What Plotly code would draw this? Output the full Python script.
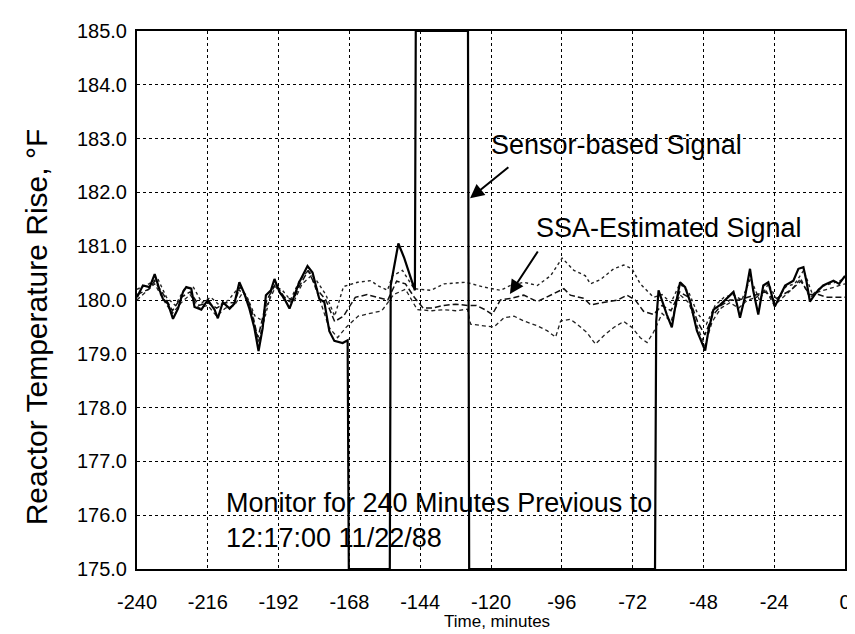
import plotly.graph_objects as go

# ---------------- data ----------------
sensor_t = [-240, -238, -235.7, -234, -232.3, -231.2, -229.5, -227.8, -226.1, -224.4, -223.3, -221.6,
            -220.5, -218.2, -216, -213.7, -212.6, -210.9, -208.6, -207, -205.3, -203.6, -201.9, -200.2,
            -198.8, -197.4, -196.3, -194.6, -193.4, -191.7, -190, -188.3, -186.6, -185, -182.2, -180.5,
            -178.2, -176.5, -174.8, -173.1, -170.3, -168.6, -168.2, -154.3, -154.0, -151.4, -149.4,
            -147.8, -145.8, -145.5, -127.8, -127.4, -64.4, -64.0, -63.2, -60.4, -58.7, -57.6, -55.9,
            -54.2, -52.5, -50.2, -48.5, -47.4, -46.3, -44.6, -42.3, -40.1, -37.8, -36.7, -35.6, -33.9,
            -32.2, -31.1, -29.4, -27.7, -26.0, -23.8, -22.0, -20.3, -17.5, -15.8, -14.1, -13.0, -11.9,
            -9.6, -7.4, -5.1, -3.9, -2, 0]
sensor_v = [180.05, 180.27, 180.24, 180.48, 180.18, 180.02, 179.93, 179.65, 179.84, 180.15, 180.24, 180.21,
            179.87, 179.82, 180.0, 179.82, 179.66, 179.96, 179.84, 179.93, 180.33, 180.12, 179.84, 179.48,
            179.05, 179.48, 180.09, 180.18, 180.39, 180.15, 180.02, 179.84, 180.09, 180.33, 180.63, 180.51,
            180.02, 179.96, 179.42, 179.24, 179.2, 179.25, 175.0, 175.0, 180.27, 181.05, 180.78,
            180.51, 180.18, 185.0, 185.0, 175.0, 175.0, 179.6, 180.18, 179.73, 179.49, 179.85, 180.33,
            180.24, 179.97, 179.43, 179.21, 179.06, 179.43, 179.82, 179.91, 180.03, 180.15, 179.94, 179.67, 180.06,
            180.58, 180.17, 179.73, 180.27, 180.33, 179.88, 180.09, 180.27, 180.36, 180.58, 180.61, 180.33, 179.97,
            180.15, 180.27, 180.33, 180.36, 180.3, 180.45]

ssa_t = [-240, -236, -234, -231, -228, -225, -222, -219, -216, -213, -210, -207, -205, -202, -199, -196,
         -193, -190, -187, -185, -182, -179, -176, -173, -170, -166, -162, -158, -155, -152, -149, -146,
         -143, -140, -136, -132, -128, -125, -122, -119.6, -116.8, -113.4, -108.9, -104.3, -99.8, -95.3,
         -93.1, -88.5, -86.3, -81.7, -77, -73.9, -71.1, -68.3, -64.9, -62, -59, -56, -53, -50, -47.5, -45,
         -42, -39, -36, -33, -30, -27, -24, -21, -18, -15, -12, -9, -6, -3, 0]
ssa_v = [180.1, 180.2, 180.35, 180.1, 179.8, 180.05, 180.15, 179.9, 179.95, 179.85, 179.95, 179.95, 180.25,
         179.95, 179.3, 180.0, 180.3, 180.05, 180.0, 180.25, 180.55, 180.2, 180.0, 179.6, 179.7, 180.05,
         180.1, 180.05, 180.0, 180.35, 180.3, 180.05, 179.85, 179.85, 179.9, 179.92, 179.9, 179.9, 179.82,
         179.73, 180.0, 180.03, 180.09, 179.97, 180.09, 180.21, 180.09, 180.03, 179.91, 179.95, 180.0,
         180.09, 180.0, 179.79, 179.73, 179.9, 179.8, 180.15, 180.05, 179.6, 179.35, 179.7, 179.9, 180.0,
         180.0, 180.05, 180.1, 180.15, 180.0, 180.1, 180.2, 180.35, 180.1, 180.1, 180.05, 180.05, 180.05]

upper_t = [-240, -236, -233, -230, -227, -224, -221, -218, -215, -212, -209, -206, -203, -200, -197, -194,
           -191, -188, -185, -182, -179, -176, -173, -170, -165.2, -160.7, -158.5, -155.1, -153.4, -150,
           -146.1, -140.4, -135.9, -128.6, -122.4, -116.8, -113.4, -108.9, -104.3, -99.8, -95.9, -91.9, -88,
           -86.3, -82.9, -78.4, -75, -72.2, -69.4, -66.5, -64.9, -62, -59, -56, -53, -50, -47, -44, -41, -38,
           -35, -32, -29, -26, -23, -20, -17, -14, -11, -8, -5, -2, 0]
upper_v = [180.2, 180.3, 180.4, 180.05, 179.9, 180.2, 180.25, 179.95, 180.05, 179.9, 180.0, 180.2, 180.1,
           179.7, 179.6, 180.25, 180.2, 180.0, 180.35, 180.55, 180.35, 180.1, 179.7, 180.25, 180.33, 180.36,
           180.27, 180.18, 180.45, 180.55, 180.21, 180.18, 180.3, 180.33, 180.24, 180.18, 180.27, 180.33,
           180.27, 180.45, 180.78, 180.55, 180.45, 180.3, 180.38, 180.58, 180.65, 180.58, 180.3, 180.15, 180.05,
           180.1, 179.95, 180.3, 180.15, 179.75, 179.55, 179.9, 180.05, 180.1, 180.0, 180.4, 180.0, 180.3,
           180.0, 180.25, 180.3, 180.55, 180.1, 180.25, 180.3, 180.35, 180.4]

lower_t = [-240, -237, -234, -231, -228, -225, -222, -219, -216, -213, -210, -207, -204, -201, -198.8, -196,
           -193, -190, -187, -184, -181, -178, -175, -172, -169, -165, -161, -157, -153, -149, -145, -140,
           -136, -132, -128, -126.9, -122.4, -119, -115.6, -112.2, -108.9, -104.3, -101, -98.1, -96.4, -93.1,
           -90.8, -87.4, -84.6, -81.7, -78.4, -75, -72.2, -69.4, -67.1, -64.9, -62, -59, -56, -53, -50, -47.5,
           -45, -42, -39, -36, -33, -30, -27, -24, -21, -18, -15, -12, -9, -6, -3, 0]
lower_v = [180.0, 180.15, 180.3, 180.0, 179.75, 179.95, 180.1, 179.85, 179.9, 179.7, 179.85, 179.9, 180.15,
           179.8, 179.2, 179.9, 180.25, 180.0, 179.95, 180.3, 180.45, 180.0, 179.5, 179.3, 179.5, 179.7,
           179.75, 179.8, 180.1, 180.2, 179.82, 179.8, 179.82, 179.8, 179.83, 179.55, 179.52, 179.5, 179.67,
           179.7, 179.61, 179.52, 179.43, 179.31, 179.61, 179.64, 179.55, 179.39, 179.18, 179.34, 179.49,
           179.6, 179.49, 179.3, 179.21, 179.4, 179.75, 179.6, 180.1, 179.95, 179.5, 179.15, 179.6, 179.85,
           179.95, 179.85, 180.0, 180.05, 180.2, 179.9, 180.05, 180.2, 180.4, 180.05, 180.15, 180.2, 180.25,
           180.3]

x_ticks = [-240, -216, -192, -168, -144, -120, -96, -72, -48, -24, 0]
y_ticks = [175, 176, 177, 178, 179, 180, 181, 182, 183, 184, 185]

FONT = "Liberation Sans, Arial, sans-serif"

fig = go.Figure()
fig.add_trace(go.Scatter(x=upper_t, y=upper_v, mode="lines",
                         line=dict(color="#222", width=1.4, dash="dot"), showlegend=False))
fig.add_trace(go.Scatter(x=lower_t, y=lower_v, mode="lines",
                         line=dict(color="#222", width=1.3, dash="4px,3px"), showlegend=False))
fig.add_trace(go.Scatter(x=ssa_t, y=ssa_v, mode="lines",
                         line=dict(color="#111", width=1.5, dash="6px,3px"), showlegend=False))
fig.add_trace(go.Scatter(x=sensor_t, y=sensor_v, mode="lines",
                         line=dict(color="black", width=2.2), showlegend=False))

axis_common = dict(showline=True, linecolor="black", linewidth=2, mirror=True,
                   showgrid=True, gridcolor="black", gridwidth=1.3, griddash="dot",
                   zeroline=False, ticks="", tickfont=dict(family=FONT, size=20, color="black"))

fig.update_xaxes(range=[-240, 0], tickvals=x_ticks, ticktext=[str(v) for v in x_ticks],
                 ticklabelstandoff=14, **axis_common)
fig.update_yaxes(range=[175, 185], tickvals=y_ticks, ticktext=[f"{v:.1f}" for v in y_ticks],
                 ticklabelstandoff=4, **axis_common)

ann_font = dict(family=FONT, size=27, color="black")
fig.add_annotation(x=-120.7, y=182.88, text="Sensor-based Signal", showarrow=False,
                   xanchor="left", yanchor="middle", font=ann_font)
fig.add_annotation(x=-127.1, y=181.89, ax=-113.6, ay=182.49, axref="x", ayref="y",
                   text="", showarrow=True, arrowhead=2, arrowsize=1.4, arrowwidth=2, arrowcolor="black")
fig.add_annotation(x=-105.5, y=181.34, text="SSA-Estimated Signal", showarrow=False,
                   xanchor="left", yanchor="middle", font=ann_font)
fig.add_annotation(x=-113.6, y=180.11, ax=-103.8, ay=180.93, axref="x", ayref="y",
                   text="", showarrow=True, arrowhead=2, arrowsize=1.4, arrowwidth=2, arrowcolor="black")
fig.add_annotation(x=-210.6, y=175.9, text="Monitor for 240 Minutes Previous to<br>12:17:00 11/22/88",
                   showarrow=False, xanchor="left", yanchor="middle", align="left", font=ann_font,
                   bgcolor="rgba(0,0,0,0)")

fig.add_annotation(xref="paper", yref="paper", x=-0.142, y=0.45, text="Reactor Temperature Rise, °F",
                   textangle=-90, showarrow=False, xanchor="center", yanchor="middle",
                   font=dict(family=FONT, size=30, color="black"))
fig.add_annotation(xref="paper", yref="paper", x=0.508, y=-0.097, text="Time, minutes",
                   showarrow=False, xanchor="center", yanchor="middle",
                   font=dict(family=FONT, size=17, color="black"))

fig.update_layout(width=855, height=634, margin=dict(l=129, r=16, t=15, b=73),
                  paper_bgcolor="white", plot_bgcolor="white")

fig.write_html("out.html")
